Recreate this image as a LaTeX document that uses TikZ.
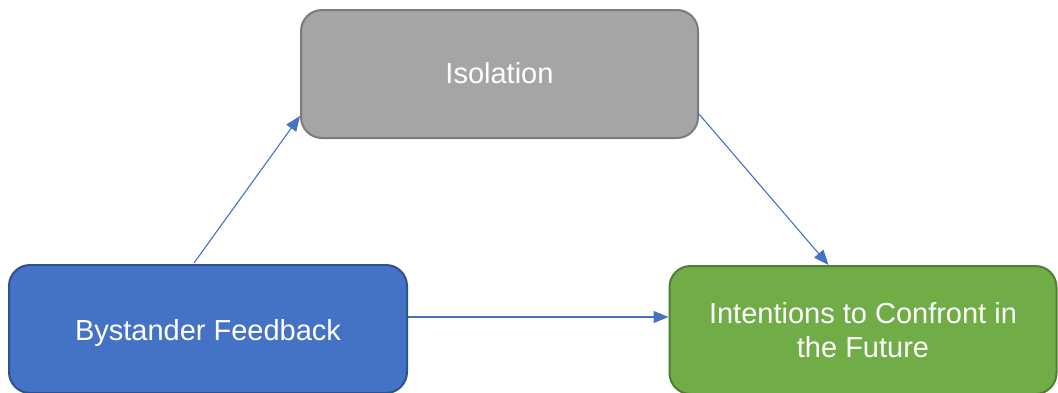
\documentclass[tikz,border=0pt]{standalone}
\usepackage{fontspec}
\setmainfont{Liberation Sans}
\usetikzlibrary{arrows.meta,calc}

\definecolor{grayfill}{HTML}{A5A5A5}
\definecolor{grayline}{HTML}{7B7B7B}
\definecolor{bluefill}{HTML}{4472C4}
\definecolor{blueline}{HTML}{2F528F}
\definecolor{greenfill}{HTML}{70AD47}
\definecolor{greenline}{HTML}{507E32}
\definecolor{arrowblue}{HTML}{4472C4}

\tikzset{
  box/.style={rounded corners=21pt, line width=2pt, minimum height=128pt,
    text=white, align=center, inner sep=0pt,
    font=\fontsize{29}{34}\selectfont},
  link/.style={draw=arrowblue, line width=1.1pt,
    -{Triangle[length=15pt,width=12pt]}}
}

\begin{document}
\begin{tikzpicture}[x=1pt,y=-1pt]
  \useasboundingbox (0,0) rectangle (1058,392);

  \node[box, fill=grayfill, draw=grayline, minimum width=397pt,
    text height=25pt, text depth=6pt]
    (iso) at (499.5,74) {Isolation};
  \node[box, fill=bluefill, draw=blueline, minimum width=398pt,
    text height=28pt, text depth=6pt]
    (byst) at (208,329) {Bystander Feedback};
  \node[box, fill=greenfill, draw=greenline, minimum width=387pt]
    (intent) at (863,330) {Intentions to Confront in\\the Future};

  \draw[link] ($(byst.north west)+(186,-1)$) -- ($(iso.south west)+(0,-23)$);
  \draw[link] ($(iso.south east)+(0,-25)$) -- ($(intent.north west)+(160,0)$);
  \draw[link] ($(byst.east)+(0,-12)$) -- ($(intent.west)+(0,-13)$);
\end{tikzpicture}
\end{document}
